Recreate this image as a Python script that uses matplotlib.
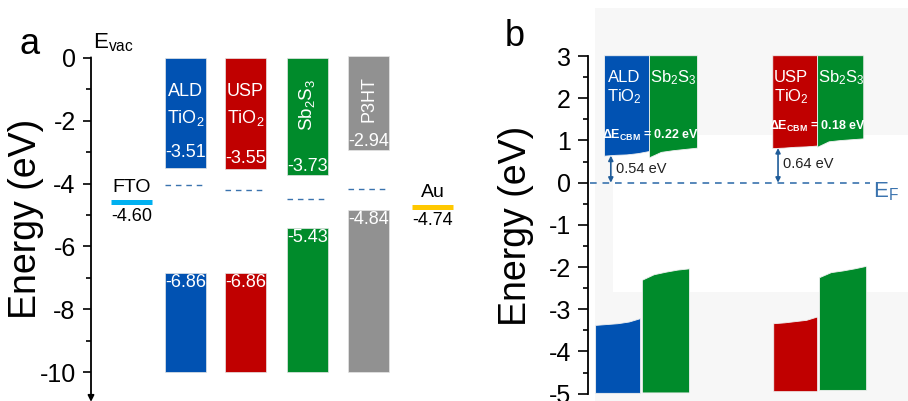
import matplotlib
matplotlib.use("Agg")
import matplotlib.pyplot as plt
from matplotlib.patches import Rectangle
import numpy as np

plt.rcParams.update(
    {
        "font.family": ["Liberation Sans", "DejaVu Sans"],
        "mathtext.fontset": "custom",
        "mathtext.rm": "Liberation Sans",
        "mathtext.it": "Liberation Sans",
        "mathtext.bf": "Liberation Sans:bold",
        "axes.linewidth": 1.3,
    }
)

BLUE = "#0152B2"
RED = "#C00000"
GREEN = "#008B2B"
GRAY = "#919191"
FTO_C = "#00B0F0"
AU_C = "#FFC800"
DASH_C = "#3A73AE"

# ---- panel a: energy levels vs vacuum ----
layers = ["ALD", "USP", "Sb2S3", "P3HT"]
block_top = [0.0, 0.0, 0.0, 0.05]
cbm = [-3.51, -3.55, -3.73, -2.94]
vbm = [-6.86, -6.86, -5.43, -4.84]
block_bottom = [-10.0, -10.0, -10.0, -10.0]
fermi = [-4.03, -4.20, -4.50, -4.17]
electrodes = ["FTO", "Au"]
work_fn = [-4.60, -4.74]
yticks_a = [0, -2, -4, -6, -8, -10]

# ---- panel b: band alignment vs E_F (read at 0, 1/4, 1/2, 3/4, 1 of slab width) ----
ald_cb = [0.64, 0.66, 0.67, 0.70, 0.75]
ald_sb_cb = [0.60, 0.73, 0.77, 0.80, 0.83]
usp_cb = [0.82, 0.83, 0.85, 0.86, 0.88]
usp_sb_cb = [0.85, 0.98, 1.01, 1.03, 1.05]
ald_vb = [-3.37, -3.35, -3.33, -3.29, -3.21]
ald_sb_vb = [-2.30, -2.17, -2.11, -2.06, -2.03]
usp_vb = [-3.33, -3.31, -3.28, -3.25, -3.17]
usp_sb_vb = [-2.24, -2.12, -2.08, -2.03, -1.97]
slab_top = 3.02
slab_bottom = [-4.98, -4.97, -4.94, -4.91]
offsets = [0.54, 0.64]
dcbm = [0.22, 0.18]
yticks_b = [3, 2, 1, 0, -1, -2, -3, -4, -5]

fig = plt.figure(figsize=(9.08, 4.01), dpi=100)

# light background patches behind panel b (screenshot look)
fig.patches.append(Rectangle((0.6553, 0.0), 0.3447, 0.98, transform=fig.transFigure,
                             facecolor="#F7F7F7", edgecolor="none", zorder=-2))
fig.patches.append(Rectangle((0.6751, 0.2718), 0.3249, 0.3915, transform=fig.transFigure,
                             facecolor="white", edgecolor="none", zorder=-1))

# ================= panel a =================
ax = fig.add_axes([0.10022, 0.00574, 0.4064, 0.9594])
ax.set_xlim(-0.67, 5.45)
ax.set_ylim(-10.85, 1.4)
for s in ["top", "right", "bottom", "left"]:
    ax.spines[s].set_visible(False)
ax.set_xticks([])
ax.set_yticks(yticks_a)
ax.set_yticklabels([f"{t:g}" for t in yticks_a])
ax.set_yticks(np.arange(-9, 0, 2), minor=True)
ax.tick_params(axis="y", which="major", length=6, width=1.2, pad=5, labelsize=18)
ax.tick_params(axis="y", which="minor", length=3.5, width=1.2)
ax.annotate("", xy=(0, -10.95), xytext=(0, 0.02),
            xycoords=("axes fraction", "data"), textcoords=("axes fraction", "data"),
            arrowprops=dict(arrowstyle="-|>", lw=1.3, color="k", mutation_scale=9,
                            shrinkA=0, shrinkB=0))

xa = [0.90, 1.89, 2.92, 3.94]
w = 0.68
colors_a = [BLUE, RED, GREEN, GRAY]
for i in range(len(layers)):
    ax.bar(xa[i], block_top[i] - cbm[i], bottom=cbm[i], width=w, color=colors_a[i],
           edgecolor="#E6E6E6", linewidth=0.5)
    ax.bar(xa[i], vbm[i] - block_bottom[i], bottom=block_bottom[i], width=w,
           color=colors_a[i], edgecolor="#E6E6E6", linewidth=0.5)
    ax.hlines(fermi[i], xa[i] - w / 2, xa[i] + w / 2, colors=DASH_C, lw=1.0,
              linestyles=(0, (4, 3.5)))
    ax.text(xa[i], vbm[i] - 0.3, f"{vbm[i]:.2f}", color="white", fontsize=13,
            ha="center", va="center")

lift = [0.5, 0.35, 0.27, 0.28]
for i in range(len(layers)):
    ax.text(xa[i], cbm[i] + lift[i], f"{cbm[i]:.2f}", color="white", fontsize=13,
            ha="center", va="center")

ax.text(xa[0], -1.08, "ALD", color="white", fontsize=13, ha="center", va="center")
ax.text(xa[0], -1.9, r"TiO$_2$", color="white", fontsize=13, ha="center", va="center")
ax.text(xa[1], -1.08, "USP", color="white", fontsize=13, ha="center", va="center")
ax.text(xa[1], -1.9, r"TiO$_2$", color="white", fontsize=13, ha="center", va="center")
ax.text(xa[2], -1.5, r"Sb$_2$S$_3$", color="white", fontsize=13.5, ha="center",
        va="center", rotation=90)
ax.text(xa[3], -1.3, "P3HT", color="white", fontsize=13, ha="center", va="center",
        rotation=90)

xe = [0.0, 5.0]
ecol = [FTO_C, AU_C]
for i in range(len(electrodes)):
    ax.hlines(work_fn[i], xe[i] - w / 2, xe[i] + w / 2, colors=ecol[i], lw=3.6)
    ax.text(xe[i], work_fn[i] + 0.47, electrodes[i], fontsize=14, ha="center", va="center")
    ax.text(xe[i], work_fn[i] - 0.45, f"{work_fn[i]:.2f}", fontsize=13, ha="center",
            va="center")

ax.text(-0.63, 0.5, r"E$_{\mathrm{vac}}$", fontsize=16, ha="left", va="center")
fig.text(30 / 908, 1 - 45 / 401, "a", fontsize=26, ha="center", va="center")
fig.text(26 / 908, 1 - 219 / 401, "Energy (eV)", fontsize=27, rotation=90,
         ha="center", va="center")

# ================= panel b =================
bx = fig.add_axes([0.6473, 0.0077, 0.3528, 0.9893])
bx.patch.set_alpha(0)
bx.set_xlim(0, 10)
bx.set_ylim(-5.1, 4.3)
for s in ["top", "right", "bottom"]:
    bx.spines[s].set_visible(False)
bx.spines["left"].set_bounds(-5, 3)
bx.set_xticks([])
bx.set_yticks(yticks_b)
bx.set_yticklabels([f"{t:g}" for t in yticks_b])
bx.set_yticks(np.arange(-4.5, 3, 1.0), minor=True)
bx.tick_params(axis="y", which="major", length=7, width=1.2, pad=5, labelsize=18)
bx.tick_params(axis="y", which="minor", length=3.5, width=1.2)


def slab(x0, x1, lower, upper, color):
    lower = np.broadcast_to(np.asarray(lower, float), (5,))
    upper = np.broadcast_to(np.asarray(upper, float), (5,))
    xs = np.linspace(x0, x1, 5)
    bx.fill_between(xs, lower, upper, color=color, lw=0.6, edgecolor="#F0F0F0", zorder=2)


# upper (conduction) slabs
slab(0.51, 1.91, ald_cb, slab_top, BLUE)
slab(1.91, 3.41, ald_sb_cb, slab_top, GREEN)
slab(5.76, 7.16, usp_cb, slab_top, RED)
slab(7.16, 8.60, usp_sb_cb, slab_top, GREEN)
# lower (valence) slabs
slab(0.23, 1.63, slab_bottom[0], ald_vb, BLUE)
slab(1.69, 3.16, slab_bottom[1], ald_sb_vb, GREEN)
slab(5.79, 7.16, slab_bottom[2], usp_vb, RED)
slab(7.22, 8.69, slab_bottom[3], usp_sb_vb, GREEN)

bx.hlines(0, 0.07, 8.8, colors=DASH_C, lw=1.2, linestyles=(0, (4, 3.5)), zorder=3)
bx.text(8.9, -0.22, r"E$_\mathrm{F}$", color=DASH_C, fontsize=16, ha="left", va="center")

arrow_x = [0.72, 5.94]
arrow_top = [ald_cb[0], usp_cb[0]]
label_y = [0.32, 0.44]
for i in range(2):
    bx.annotate("", xy=(arrow_x[i], arrow_top[i]), xytext=(arrow_x[i], 0),
                arrowprops=dict(arrowstyle="<|-|>", lw=1.2, color="#1F5C99",
                                mutation_scale=7, shrinkA=0, shrinkB=0), zorder=4)
    bx.text(arrow_x[i] + 0.17, label_y[i], f"{offsets[i]:.2f} eV", fontsize=10.5,
            color="#222222", ha="left", va="center")

for xc, name in [(1.14, "ALD"), (6.35, "USP")]:
    bx.text(xc, 2.5, name, color="white", fontsize=12, ha="center", va="center", zorder=5)
    bx.text(xc, 2.03, r"TiO$_2$", color="white", fontsize=12, ha="center", va="center",
            zorder=5)
for xc in [2.67, 7.91]:
    bx.text(xc, 2.5, r"Sb$_2$S$_3$", color="white", fontsize=12, ha="center",
            va="center", zorder=5)

dcbm_y = [1.13, 1.34]
dcbm_x = [1.97, 7.18]
for i in range(2):
    bx.text(dcbm_x[i], dcbm_y[i], r"$\mathbf{\Delta E_{CBM}}$" + f" = {dcbm[i]:.2f} eV",
            color="white", fontsize=9, fontweight="bold", ha="center", va="center", zorder=5)

fig.text(515 / 908, 1 - 36 / 401, "b", fontsize=26, ha="center", va="center")
fig.text(516 / 908, 1 - 226 / 401, "Energy (eV)", fontsize=27, rotation=90,
         ha="center", va="center")

fig.savefig("out.png", dpi=100)
